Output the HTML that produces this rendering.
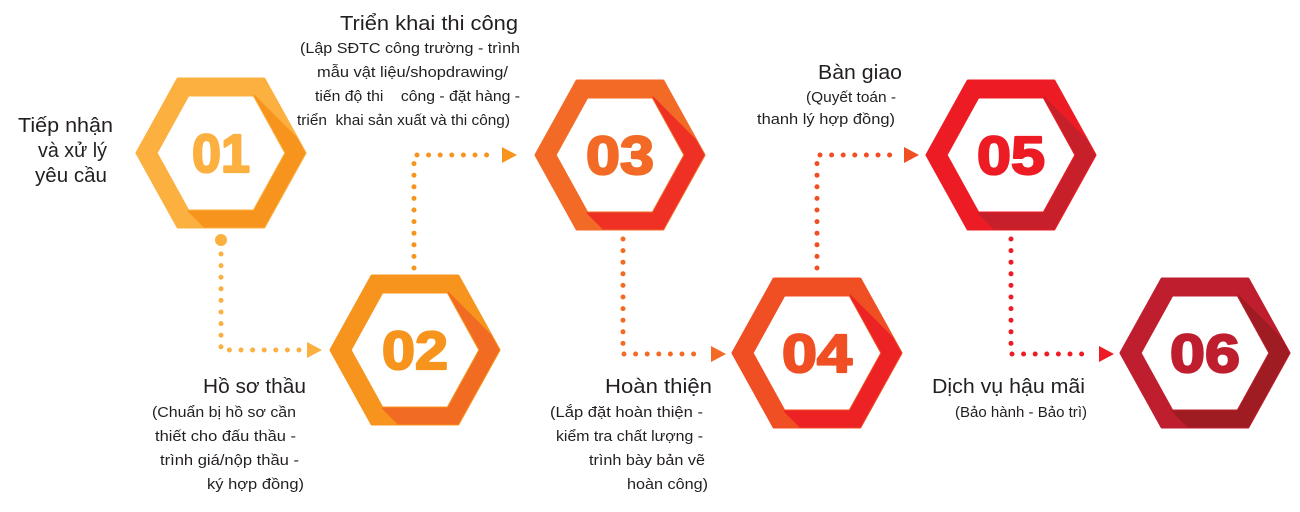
<!DOCTYPE html>
<html><head><meta charset="utf-8"><style>
html,body{margin:0;padding:0;background:#fff;width:1300px;height:512px;overflow:hidden}
svg{display:block}
text{font-family:"Liberation Sans",sans-serif;fill:#231f20}
.t{font-size:20px}
.s{font-size:14.5px}
.n{font-size:54px;font-weight:bold;stroke-width:2.2px;stroke-linejoin:round}
</style></head><body>
<svg width="1300" height="512" viewBox="0 0 1300 512" xmlns="http://www.w3.org/2000/svg">
<defs>
<path id="ring" fill-rule="evenodd" d="M-84,0 L-43,-74 L43,-74 L84,0 L43,74 L-43,74 Z M-65,0 L-33,58 L33,58 L65,0 L33,-58 L-33,-58 Z"/>
<path id="shade" d="M33,-58 L75.3,-15.7 L84,0 L43,74 L-17,74 L-33,58 L33,58 L65,0 Z"/>
</defs>

<g transform="translate(221,153)" stroke-linejoin="round">
<use href="#ring" fill="#FBB040" stroke="#FBB040" stroke-width="3"/><use href="#shade" fill="#F7941D" stroke="#F7941D" stroke-width="1"/>
<text class="n" x="0" y="19" text-anchor="middle" textLength="58" lengthAdjust="spacingAndGlyphs" style="fill:#FBB040;stroke:#FBB040">01</text></g>
<g transform="translate(415,350)" stroke-linejoin="round">
<use href="#ring" fill="#F7941D" stroke="#F7941D" stroke-width="3"/><use href="#shade" fill="#F26B22" stroke="#F26B22" stroke-width="1"/>
<text class="n" x="0" y="19" text-anchor="middle" textLength="66" lengthAdjust="spacingAndGlyphs" style="fill:#F7941D;stroke:#F7941D">02</text></g>
<g transform="translate(620,155)" stroke-linejoin="round">
<use href="#ring" fill="#F26A25" stroke="#F26A25" stroke-width="3"/><use href="#shade" fill="#EE3124" stroke="#EE3124" stroke-width="1"/>
<text class="n" x="0" y="19" text-anchor="middle" textLength="68" lengthAdjust="spacingAndGlyphs" style="fill:#F26A25;stroke:#F26A25">03</text></g>
<g transform="translate(817,353)" stroke-linejoin="round">
<use href="#ring" fill="#F04E23" stroke="#F04E23" stroke-width="3"/><use href="#shade" fill="#ED2224" stroke="#ED2224" stroke-width="1"/>
<text class="n" x="0" y="19" text-anchor="middle" textLength="70" lengthAdjust="spacingAndGlyphs" style="fill:#F04E23;stroke:#F04E23">04</text></g>
<g transform="translate(1011,155)" stroke-linejoin="round">
<use href="#ring" fill="#ED1C24" stroke="#ED1C24" stroke-width="3"/><use href="#shade" fill="#C8202B" stroke="#C8202B" stroke-width="1"/>
<text class="n" x="0" y="19" text-anchor="middle" textLength="68" lengthAdjust="spacingAndGlyphs" style="fill:#ED1C24;stroke:#ED1C24">05</text></g>
<g transform="translate(1205,353)" stroke-linejoin="round">
<use href="#ring" fill="#BE1E2D" stroke="#BE1E2D" stroke-width="3"/><use href="#shade" fill="#9E1C22" stroke="#9E1C22" stroke-width="1"/>
<text class="n" x="0" y="19" text-anchor="middle" textLength="70" lengthAdjust="spacingAndGlyphs" style="fill:#BE1E2D;stroke:#BE1E2D">06</text></g>

<g fill="none" stroke-width="5" stroke-linecap="round" stroke-dasharray="0 11.6">
<circle cx="221" cy="240" r="6" fill="#FBB040" stroke="none"/>
<path d="M221,254 L221,350 L300,350" stroke="#FBB040"/>
<path d="M414,268 L414,155 L494,155" stroke="#F7941D"/>
<path d="M623,239 L623,354 L704,354" stroke="#F26A25"/>
<path d="M817,268 L817,155 L897,155" stroke="#F04E23"/>
<path d="M1011,239 L1011,354 L1092,354" stroke="#ED1C24"/>
</g>
<polygon points="307,342 322,350 307,358" fill="#FBB040"/>
<polygon points="502,147 517,155 502,163" fill="#F7941D"/>
<polygon points="711,346 726,354 711,362" fill="#F26A25"/>
<polygon points="904,147 919,155 904,163" fill="#F04E23"/>
<polygon points="1099,346 1114,354 1099,362" fill="#ED1C24"/>

<text class="t" x="18" y="132" textLength="95" lengthAdjust="spacingAndGlyphs">Tiếp nhận</text>
<text class="t" x="38" y="157" textLength="69" lengthAdjust="spacingAndGlyphs">và xử lý</text>
<text class="t" x="35" y="182" textLength="72" lengthAdjust="spacingAndGlyphs">yêu cầu</text>

<text class="t" x="340" y="30" textLength="178" lengthAdjust="spacingAndGlyphs">Triển khai thi công</text>
<text class="s" x="300" y="53" textLength="220" lengthAdjust="spacingAndGlyphs">(Lập SĐTC công trường - trình</text>
<text class="s" x="317" y="77" textLength="191" lengthAdjust="spacingAndGlyphs">mẫu vật liệu/shopdrawing/</text>
<text class="s" x="315" y="101" textLength="205" lengthAdjust="spacingAndGlyphs" xml:space="preserve">tiến độ thi    công - đặt hàng -</text>
<text class="s" x="297" y="125" textLength="213" lengthAdjust="spacingAndGlyphs" xml:space="preserve">triển  khai sản xuất và thi công)</text>

<text class="t" x="203" y="393" textLength="103" lengthAdjust="spacingAndGlyphs">Hồ sơ thầu</text>
<text class="s" x="152" y="417" textLength="144" lengthAdjust="spacingAndGlyphs">(Chuẩn bị hồ sơ cần</text>
<text class="s" x="155" y="441" textLength="141" lengthAdjust="spacingAndGlyphs">thiết cho đấu thầu -</text>
<text class="s" x="160" y="465" textLength="139" lengthAdjust="spacingAndGlyphs">trình giá/nộp thầu -</text>
<text class="s" x="207" y="489" textLength="97" lengthAdjust="spacingAndGlyphs">ký hợp đồng)</text>

<text class="t" x="818" y="79" textLength="84" lengthAdjust="spacingAndGlyphs">Bàn giao</text>
<text class="s" x="806" y="102" textLength="90" lengthAdjust="spacingAndGlyphs">(Quyết toán -</text>
<text class="s" x="757" y="124" textLength="138" lengthAdjust="spacingAndGlyphs">thanh lý hợp đồng)</text>

<text class="t" x="605" y="393" textLength="107" lengthAdjust="spacingAndGlyphs">Hoàn thiện</text>
<text class="s" x="550" y="417" textLength="153" lengthAdjust="spacingAndGlyphs">(Lắp đặt hoàn thiện -</text>
<text class="s" x="556" y="441" textLength="147" lengthAdjust="spacingAndGlyphs">kiểm tra chất lượng -</text>
<text class="s" x="589" y="465" textLength="116" lengthAdjust="spacingAndGlyphs">trình bày bản vẽ</text>
<text class="s" x="627" y="489" textLength="81" lengthAdjust="spacingAndGlyphs">hoàn công)</text>

<text class="t" x="932" y="393" textLength="153" lengthAdjust="spacingAndGlyphs">Dịch vụ hậu mãi</text>
<text class="s" x="955" y="417" textLength="132" lengthAdjust="spacingAndGlyphs">(Bảo hành - Bảo trì)</text>
</svg>
</body></html>
